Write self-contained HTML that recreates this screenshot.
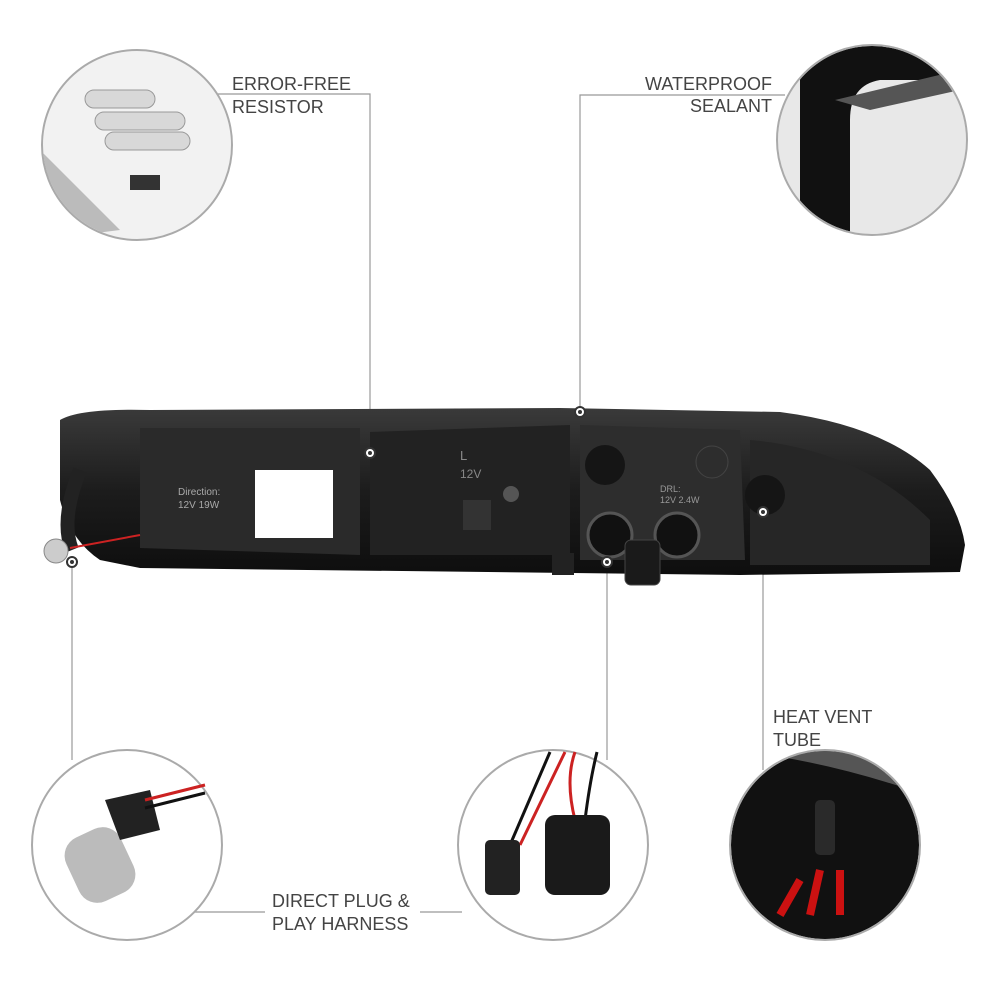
<!DOCTYPE html>
<html><head><meta charset="utf-8"><style>
body{margin:0;background:#fff;}
svg{display:block}
text{font-family:"Liberation Sans",sans-serif;font-size:18px;fill:#444;}
</style></head><body>
<svg width="1000" height="1000" viewBox="0 0 1000 1000" xmlns="http://www.w3.org/2000/svg">
<defs>
<linearGradient id="lamp" x1="0" y1="0" x2="0" y2="1">
<stop offset="0" stop-color="#3a3a3a"/><stop offset="0.5" stop-color="#1c1c1c"/><stop offset="1" stop-color="#0e0e0e"/></linearGradient>
<clipPath id="c1"><circle cx="137" cy="145" r="94"/></clipPath>
<clipPath id="c2"><circle cx="872" cy="140" r="94"/></clipPath>
<clipPath id="c5"><circle cx="825" cy="845" r="94"/></clipPath>
</defs>
<g stroke="#999" stroke-width="1.2" fill="none">
<polyline points="218,94 370,94 370,453"/>
<polyline points="785,95 580,95 580,412"/>
<line x1="763" y1="512" x2="763" y2="770"/>
<polyline points="607,562 607,760"/>
<line x1="72" y1="562" x2="72" y2="760"/>
<line x1="195" y1="912" x2="265" y2="912"/>
<line x1="420" y1="912" x2="462" y2="912"/>
</g>
<text x="232" y="90">ERROR-FREE</text><text x="232" y="113">RESISTOR</text>
<text x="772" y="90" text-anchor="end">WATERPROOF</text><text x="772" y="112" text-anchor="end">SEALANT</text>
<text x="773" y="723">HEAT VENT</text><text x="773" y="746">TUBE</text>
<text x="272" y="907">DIRECT PLUG &amp;</text><text x="272" y="930">PLAY HARNESS</text>
<path d="M60,420 Q80,408 150,410 L560,408 L780,412 Q880,425 930,470 Q960,510 965,545 L960,572 L740,575 L140,568 L100,560 Q70,540 60,500 Z" fill="url(#lamp)"/>
<path d="M140,428 L360,428 L360,555 L140,548 Z" fill="#2a2a2a"/>
<rect x="255" y="470" width="78" height="68" fill="#fff"/>
<path d="M370,432 L570,425 L570,555 L370,555 Z" fill="#222"/>
<path d="M580,425 L740,430 L745,560 L580,560 Z" fill="#2d2d2d"/>
<path d="M750,440 Q860,450 930,520 L930,565 L750,565 Z" fill="#262626"/>
<circle cx="605" cy="465" r="20" fill="#151515"/>
<circle cx="712" cy="462" r="16" fill="none" stroke="#444"/>
<circle cx="765" cy="495" r="20" fill="#151515"/>
<circle cx="610" cy="535" r="22" fill="#111" stroke="#555" stroke-width="3"/>
<circle cx="677" cy="535" r="22" fill="#111" stroke="#555" stroke-width="3"/>
<rect x="625" y="540" width="35" height="45" rx="6" fill="#1a1a1a" stroke="#444"/>
<rect x="552" y="553" width="22" height="22" fill="#222"/>
<rect x="463" y="500" width="28" height="30" fill="#333"/>
<circle cx="511" cy="494" r="8" fill="#555"/>
<text x="178" y="495" style="font-size:10px;fill:#aaa">Direction:</text>
<text x="178" y="508" style="font-size:10px;fill:#aaa">12V 19W</text>
<text x="460" y="460" style="font-size:13px;fill:#888">L</text>
<text x="460" y="478" style="font-size:12px;fill:#888">12V</text>
<text x="660" y="492" style="font-size:9px;fill:#999">DRL:</text>
<text x="660" y="503" style="font-size:9px;fill:#999">12V 2.4W</text>
<path d="M80,470 Q60,520 72,550" stroke="#222" stroke-width="14" fill="none"/>
<circle cx="56" cy="551" r="12" fill="#ccc" stroke="#888"/>
<path d="M70,548 L140,535" stroke="#c22" stroke-width="2"/>
<g fill="#fff" stroke="#333" stroke-width="2">
<circle cx="370" cy="453" r="5"/><circle cx="580" cy="412" r="5"/><circle cx="763" cy="512" r="5"/><circle cx="607" cy="562" r="5"/><circle cx="72" cy="562" r="5"/>
</g>
<g fill="#333"><circle cx="370" cy="453" r="2"/><circle cx="580" cy="412" r="2"/><circle cx="763" cy="512" r="2"/><circle cx="607" cy="562" r="2"/><circle cx="72" cy="562" r="2"/></g>
<g clip-path="url(#c1)">
<rect x="40" y="50" width="200" height="200" fill="#f2f2f2"/>
<path d="M40,150 L120,230 L40,240 Z" fill="#bbb"/>
<g fill="#d8d8d8" stroke="#999">
<rect x="85" y="90" width="70" height="18" rx="9"/>
<rect x="95" y="112" width="90" height="18" rx="9"/>
<rect x="105" y="132" width="85" height="18" rx="9"/>
</g>
<rect x="130" y="175" width="30" height="15" fill="#333"/>
</g>
<circle cx="137" cy="145" r="95" fill="none" stroke="#aaa" stroke-width="2"/>
<g clip-path="url(#c2)">
<rect x="770" y="40" width="200" height="200" fill="#e8e8e8"/>
<path d="M800,40 L970,40 L970,80 L880,80 Q850,85 850,120 L850,240 L800,240 Z" fill="#111"/>
<path d="M835,100 L960,70 L960,90 L870,110 Z" fill="#555"/>
</g>
<circle cx="872" cy="140" r="95" fill="none" stroke="#aaa" stroke-width="2"/>
<circle cx="127" cy="845" r="95" fill="#fff" stroke="#aaa" stroke-width="2"/>
<rect x="70" y="830" width="60" height="70" rx="20" fill="#bbb" transform="rotate(-25 100 865)"/>
<path d="M105,800 L150,790 L160,830 L120,840 Z" fill="#222"/>
<path d="M145,800 L205,785" stroke="#c22" stroke-width="3"/>
<path d="M145,808 L205,793" stroke="#111" stroke-width="3"/>
<circle cx="553" cy="845" r="95" fill="#fff" stroke="#aaa" stroke-width="2"/>
<path d="M510,845 L550,752" stroke="#111" stroke-width="3" fill="none"/>
<path d="M520,845 L565,752" stroke="#c22" stroke-width="3" fill="none"/>
<path d="M575,820 Q565,780 575,752" stroke="#c22" stroke-width="3" fill="none"/>
<path d="M585,820 Q590,780 597,752" stroke="#111" stroke-width="3" fill="none"/>
<rect x="485" y="840" width="35" height="55" rx="5" fill="#222"/>
<rect x="545" y="815" width="65" height="80" rx="10" fill="#1a1a1a"/>
<g clip-path="url(#c5)">
<rect x="720" y="740" width="220" height="220" fill="#111"/>
<path d="M730,750 Q830,760 940,800 L940,760 L730,740 Z" fill="#555"/>
<rect x="815" y="800" width="20" height="55" rx="5" fill="#2a2a2a"/>
<path d="M780,915 L800,880 M810,915 L820,870 M840,915 L840,870" stroke="#c11" stroke-width="8" fill="none"/>
</g>
<circle cx="825" cy="845" r="95" fill="none" stroke="#aaa" stroke-width="2"/>
</svg>
</body></html>
